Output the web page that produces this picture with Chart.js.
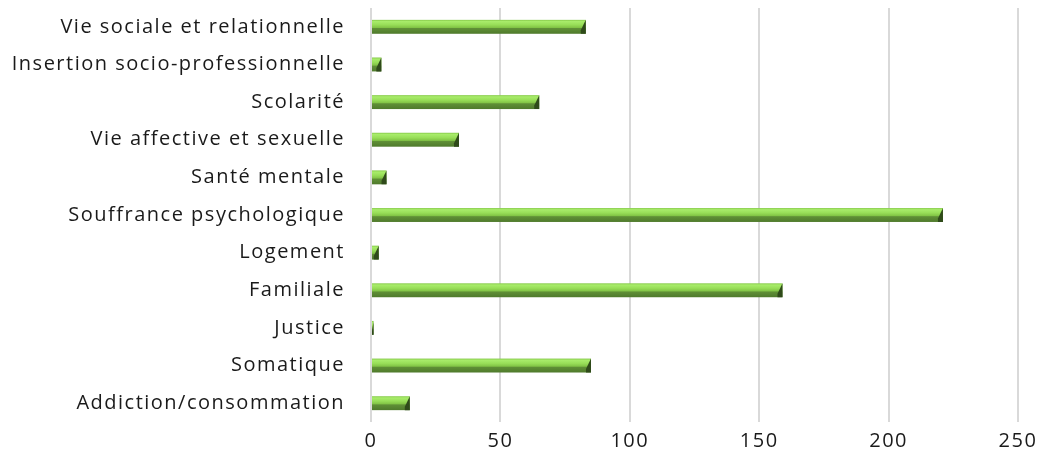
<!DOCTYPE html>
<html>
<head>
<meta charset="utf-8">
<script src="https://cdn.jsdelivr.net/npm/chart.js@4/dist/chart.umd.min.js"></script>
<style>
html,body{margin:0;padding:0;background:#fff;}
#wrap{width:1042px;height:465px;position:relative;}
</style>
</head>
<body>
<div id="wrap"><canvas id="c"></canvas></div>
<script>
const categories = [
  "Vie sociale et relationnelle",
  "Insertion socio-professionnelle",
  "Scolarité",
  "Vie affective et sexuelle",
  "Santé mentale",
  "Souffrance psychologique",
  "Logement",
  "Familiale",
  "Justice",
  "Somatique",
  "Addiction/consommation"
];
const counts = [83, 4, 65, 34, 6, 221, 3, 159, 1, 85, 15];
const xTicks = [0, 50, 100, 150, 200, 250];

const spacing = {
  id: 'spacing',
  beforeLayout(chart) { chart.ctx.letterSpacing = '1.5px'; },
  beforeDraw(chart) { chart.ctx.letterSpacing = '1.5px'; }
};

const barStyle = {
  id: 'barStyle',
  afterDatasetDraw(chart, args) {
    const meta = args.meta;
    const ctx = chart.ctx;
    ctx.save();
    meta.data.forEach(el => {
      const p = el.getProps(['x', 'y', 'base', 'height'], true);
      const left = Math.min(p.x, p.base), right = Math.max(p.x, p.base);
      const top = p.y - p.height / 2, h = p.height;
      const w = right - left;
      if (w <= 0) return;
      const g = ctx.createLinearGradient(0, top, 0, top + h);
      g.addColorStop(0, '#86c94a');
      g.addColorStop(0.12, '#a8ec6a');
      g.addColorStop(0.35, '#98de58');
      g.addColorStop(0.55, '#82c446');
      g.addColorStop(0.62, '#5f8f36');
      g.addColorStop(1, '#4f7a2c');
      ctx.fillStyle = g;
      ctx.fillRect(left, top, w, h);
      const bw = Math.min(5, w);
      ctx.fillStyle = '#2f4a1a';
      ctx.beginPath();
      ctx.moveTo(right, top);
      ctx.lineTo(right, top + h);
      ctx.lineTo(right - bw, top + h);
      ctx.lineTo(right - bw, top + h * 0.75);
      ctx.closePath();
      ctx.fill();
    });
    ctx.restore();
  }
};

new Chart(document.getElementById('c'), {
  type: 'bar',
  data: {
    labels: categories,
    datasets: [{
      data: counts,
      backgroundColor: 'rgba(0,0,0,0)',
      borderWidth: 0,
      barPercentage: 0.37,
      categoryPercentage: 1
    }]
  },
  options: {
    indexAxis: 'y',
    responsive: true,
    maintainAspectRatio: false,
    animation: false,
    layout: { padding: { top: 8, right: 24, left: 0, bottom: 0 } },
    plugins: { legend: { display: false }, tooltip: { enabled: false } },
    scales: {
      x: {
        min: 0, max: 250,
        afterBuildTicks(scale) { scale.ticks = xTicks.map(v => ({ value: v })); },
        afterFit(scale) { scale.height = 43; scale.paddingLeft = 0; scale.paddingRight = 0; },
        grid: { color: '#d9d9d9', lineWidth: 2, drawTicks: false },
        border: { display: false },
        ticks: { color: '#1a1a1a', padding: 7, font: { family: 'Open Sans', size: 20 } }
      },
      y: {
        afterFit(scale) { scale.width = 371; scale.paddingTop = 0; scale.paddingBottom = 0; },
        grid: { display: false, drawTicks: false },
        border: { display: false },
        ticks: { color: '#1a1a1a', padding: 26, font: { family: 'Open Sans', size: 20 } }
      }
    }
  },
  plugins: [spacing, barStyle]
});
</script>
</body>
</html>
